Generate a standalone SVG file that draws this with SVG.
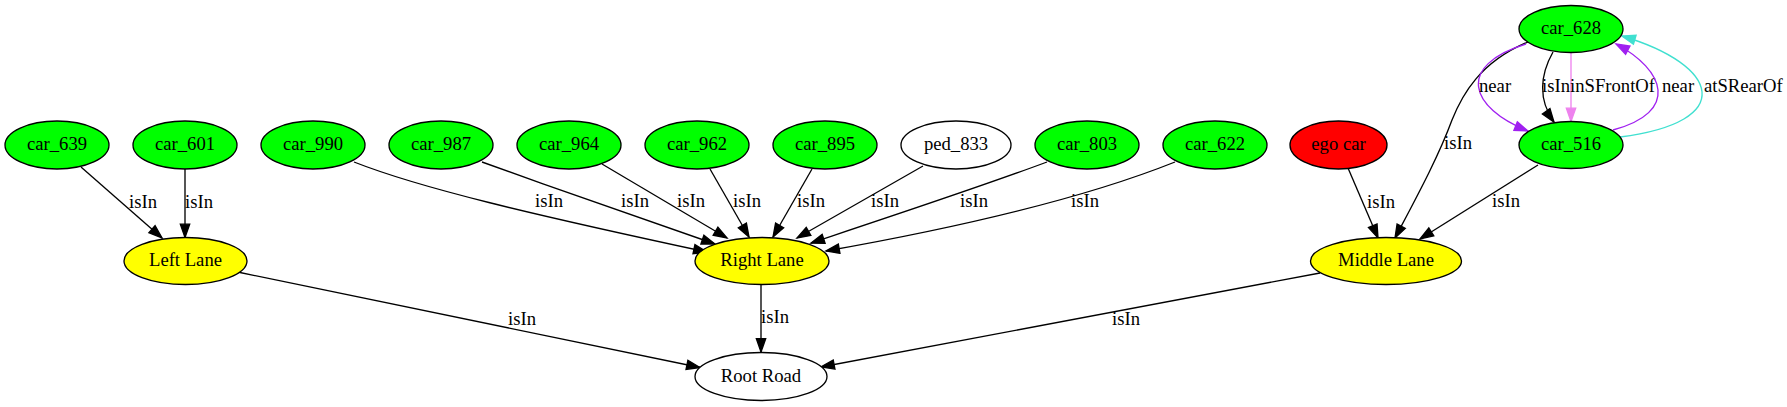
<svg xmlns="http://www.w3.org/2000/svg" width="1787" height="407" viewBox="0 0 1787 407">
<style>
  text { font-family: "Liberation Serif", "Times New Roman", serif; font-size: 18.67px; fill: #000; }
  .n ellipse { stroke: #000; stroke-width: 1.33; }
  .n text { text-anchor: middle; }
  .green { fill: #00ff00; }
  .yellow { fill: #ffff00; }
  .red { fill: #ff0000; }
  .white { fill: #ffffff; }
  .e path { fill: none; stroke-width: 1.33; }
  .k { stroke: #000; }
  .p { stroke: #a020f0; }
  .v { stroke: #ee82ee; }
  .t { stroke: #40e0d0; }
</style>
<defs>
  <marker id="ak" markerUnits="userSpaceOnUse" markerWidth="16" markerHeight="12" refX="13.33" refY="4.67" orient="auto" overflow="visible">
    <path d="M0,0 L13.33,4.67 L0,9.33 z" fill="#000" stroke="#000" stroke-width="1.33"/>
  </marker>
  <marker id="ap" markerUnits="userSpaceOnUse" markerWidth="16" markerHeight="12" refX="13.33" refY="4.67" orient="auto" overflow="visible">
    <path d="M0,0 L13.33,4.67 L0,9.33 z" fill="#a020f0" stroke="#a020f0" stroke-width="1.33"/>
  </marker>
  <marker id="av" markerUnits="userSpaceOnUse" markerWidth="16" markerHeight="12" refX="13.33" refY="4.67" orient="auto" overflow="visible">
    <path d="M0,0 L13.33,4.67 L0,9.33 z" fill="#ee82ee" stroke="#ee82ee" stroke-width="1.33"/>
  </marker>
  <marker id="at" markerUnits="userSpaceOnUse" markerWidth="16" markerHeight="12" refX="13.33" refY="4.67" orient="auto" overflow="visible">
    <path d="M0,0 L13.33,4.67 L0,9.33 z" fill="#40e0d0" stroke="#40e0d0" stroke-width="1.33"/>
  </marker>
</defs>
<rect x="0" y="0" width="1787" height="407" fill="#fff"/>

<g id="connectors" class="e">
  <path class="k" marker-end="url(#ak)" d="M81,167 L162,238"/>
  <text x="129" y="208">isIn</text>
  <path class="k" marker-end="url(#ak)" d="M185,169 L185,237.5"/>
  <text x="185" y="208">isIn</text>
  <path class="k" marker-end="url(#ak)" d="M354,162 C420,188 530,214 707,252"/>
  <text x="535" y="207">isIn</text>
  <path class="k" marker-end="url(#ak)" d="M482,162 C560,190 640,218 715,244"/>
  <text x="621" y="207">isIn</text>
  <path class="k" marker-end="url(#ak)" d="M602,164 L727,238"/>
  <text x="677" y="207">isIn</text>
  <path class="k" marker-end="url(#ak)" d="M710,169 L749,237"/>
  <text x="733" y="207">isIn</text>
  <path class="k" marker-end="url(#ak)" d="M812,169 L773,237"/>
  <text x="797" y="207">isIn</text>
  <path class="k" marker-end="url(#ak)" d="M923,166 L797,238"/>
  <text x="871" y="207">isIn</text>
  <path class="k" marker-end="url(#ak)" d="M1047,162 C980,187 880,220 811,243"/>
  <text x="960" y="207">isIn</text>
  <path class="k" marker-end="url(#ak)" d="M1175,162 C1100,192 990,222 826,251"/>
  <text x="1071" y="207">isIn</text>
  <path class="k" marker-end="url(#ak)" d="M1348,168 L1378,238"/>
  <text x="1367" y="208">isIn</text>
  <path class="k" marker-end="url(#ak)" d="M1528,42 C1480,62 1462,95 1452,120 C1438,158 1415,200 1395,238"/>
  <text x="1444" y="149">isIn</text>
  <path class="k" marker-end="url(#ak)" d="M1538,165 L1420,239"/>
  <text x="1492" y="207">isIn</text>
  <path class="k" marker-end="url(#ak)" d="M240,272.5 L700,367.5"/>
  <text x="508" y="325">isIn</text>
  <path class="k" marker-end="url(#ak)" d="M761,285 L761,352"/>
  <text x="761" y="323">isIn</text>
  <path class="k" marker-end="url(#ak)" d="M1320,273 L821,367"/>
  <text x="1112" y="325">isIn</text>
  <path class="p" marker-end="url(#ap)" d="M1526,44 C1455,66 1470,108 1528,131"/>
  <text x="1479" y="92">near</text>
  <path class="k" marker-end="url(#ak)" d="M1553,52 C1540,75 1538,100 1554,122"/>
  <text x="1542" y="92">isIn</text>
  <path class="v" marker-end="url(#av)" d="M1571,52 L1571,121.5"/>
  <text x="1570" y="92">inSFrontOf</text>
  <path class="p" marker-end="url(#ap)" d="M1613,130 C1680,112 1665,70 1616,44"/>
  <text x="1662" y="92">near</text>
  <path class="t" marker-end="url(#at)" d="M1620,137 C1738,122 1720,65 1622,36"/>
  <text x="1704" y="92">atSRearOf</text>
</g>

<g id="car_639" class="n"><ellipse class="green" cx="57" cy="145" rx="52" ry="24"/><text x="57" y="150">car_639</text></g>
<g id="car_601" class="n"><ellipse class="green" cx="185" cy="145" rx="52" ry="24"/><text x="185" y="150">car_601</text></g>
<g id="car_990" class="n"><ellipse class="green" cx="313" cy="145" rx="52" ry="24"/><text x="313" y="150">car_990</text></g>
<g id="car_987" class="n"><ellipse class="green" cx="441" cy="145" rx="52" ry="24"/><text x="441" y="150">car_987</text></g>
<g id="car_964" class="n"><ellipse class="green" cx="569" cy="145" rx="52" ry="24"/><text x="569" y="150">car_964</text></g>
<g id="car_962" class="n"><ellipse class="green" cx="697" cy="145" rx="52" ry="24"/><text x="697" y="150">car_962</text></g>
<g id="car_895" class="n"><ellipse class="green" cx="825" cy="145" rx="52" ry="24"/><text x="825" y="150">car_895</text></g>
<g id="ped_833" class="n"><ellipse class="white" cx="956" cy="145" rx="55" ry="24"/><text x="956" y="150">ped_833</text></g>
<g id="car_803" class="n"><ellipse class="green" cx="1087" cy="145" rx="52" ry="24"/><text x="1087" y="150">car_803</text></g>
<g id="car_622" class="n"><ellipse class="green" cx="1215" cy="145" rx="52" ry="24"/><text x="1215" y="150">car_622</text></g>
<g id="ego_car" class="n"><ellipse class="red" cx="1338.5" cy="145" rx="48.5" ry="24"/><text x="1338.5" y="150">ego car</text></g>
<g id="car_628" class="n"><ellipse class="green" cx="1571" cy="29" rx="52" ry="23.5"/><text x="1571" y="34">car_628</text></g>
<g id="car_516" class="n"><ellipse class="green" cx="1571" cy="145" rx="52" ry="23.5"/><text x="1571" y="150">car_516</text></g>
<g id="left_lane" class="n"><ellipse class="yellow" cx="185.5" cy="261" rx="61.5" ry="23.5"/><text x="185.5" y="266">Left Lane</text></g>
<g id="right_lane" class="n"><ellipse class="yellow" cx="762" cy="261" rx="67" ry="23.5"/><text x="762" y="266">Right Lane</text></g>
<g id="middle_lane" class="n"><ellipse class="yellow" cx="1386" cy="261" rx="75.5" ry="23.5"/><text x="1386" y="266">Middle Lane</text></g>
<g id="root_road" class="n"><ellipse class="white" cx="761" cy="376.5" rx="66" ry="24"/><text x="761" y="381.5">Root Road</text></g>
</svg>
